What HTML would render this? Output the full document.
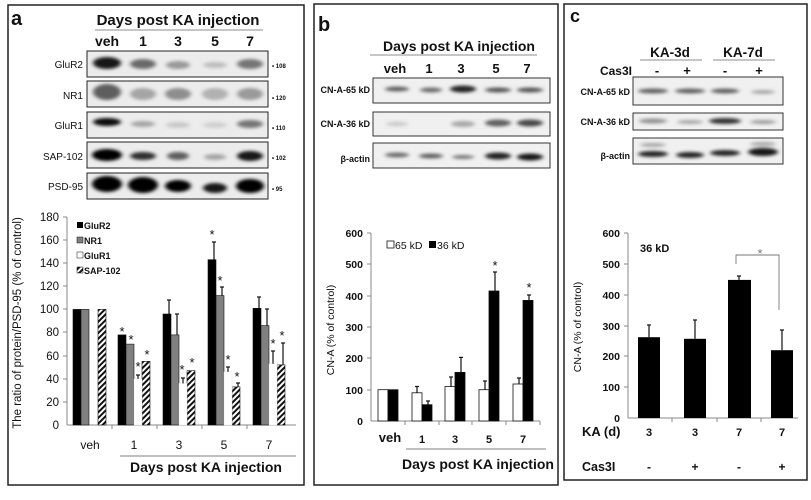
<!DOCTYPE html>
<html><head><meta charset="utf-8"><style>
html,body{margin:0;padding:0;background:#fff;}
svg{display:block;}
text{font-family:"Liberation Sans",sans-serif;fill:#111;}
.b{font-weight:bold;}
</style></head><body>
<svg width="811" height="500" viewBox="0 0 811 500" xmlns="http://www.w3.org/2000/svg">
<defs>
<filter id="bl" x="-30%" y="-100%" width="160%" height="300%"><feGaussianBlur stdDeviation="2.2 1.6"/></filter>
<pattern id="hatch" patternUnits="userSpaceOnUse" width="4" height="4" patternTransform="rotate(45)">
<rect width="4" height="4" fill="#fff"/><rect width="2" height="4" fill="#111"/></pattern>
</defs>
<rect width="811" height="500" fill="#fff"/>
<rect x="8" y="5" width="296" height="480" fill="none" stroke="#222" stroke-width="1.5"/>
<rect x="314" y="4" width="244" height="481" fill="none" stroke="#222" stroke-width="1.5"/>
<rect x="564" y="4" width="243" height="476" fill="none" stroke="#222" stroke-width="1.5"/>

<!-- ===== PANEL A ===== -->
<text x="11" y="25" font-size="20" class="b">a</text>
<text x="178" y="25" font-size="15" text-anchor="middle" class="b">Days post KA injection</text>
<line x1="95" y1="30" x2="263" y2="30" stroke="#666" stroke-width="0.8"/>
<g font-size="14" class="b" text-anchor="middle">
<text x="107" y="46">veh</text><text x="143" y="46">1</text><text x="178" y="46">3</text><text x="215" y="46">5</text><text x="250" y="46">7</text></g>
<g font-size="10" text-anchor="end" fill="#333">
<text x="83" y="68">GluR2</text><text x="83" y="99">NR1</text><text x="83" y="129">GluR1</text><text x="83" y="160">SAP-102</text><text x="83" y="190">PSD-95</text></g>
<g font-size="6" class="b"><text x="272" y="68">• 108</text><text x="272" y="100">• 120</text><text x="272" y="130">• 110</text><text x="272" y="160">• 102</text><text x="272" y="191">• 95</text></g>
<g fill="#ececec" stroke="#222" stroke-width="1">
<rect x="87" y="51" width="181" height="26"/><rect x="87" y="81" width="181" height="26"/><rect x="87" y="112" width="181" height="26"/><rect x="87" y="142" width="181" height="26"/><rect x="87" y="173" width="181" height="26"/></g>
<g filter="url(#bl)" fill="#000">
<ellipse cx="107" cy="63" rx="14" ry="6" opacity="0.9"/><ellipse cx="143" cy="64" rx="13" ry="5" opacity="0.55"/><ellipse cx="178" cy="65" rx="12" ry="4" opacity="0.35"/><ellipse cx="215" cy="65" rx="12" ry="3" opacity="0.2"/><ellipse cx="250" cy="64" rx="13" ry="5" opacity="0.5"/>
<ellipse cx="107" cy="92" rx="14" ry="8" opacity="0.6"/><ellipse cx="143" cy="94" rx="13" ry="6" opacity="0.3"/><ellipse cx="178" cy="94" rx="13" ry="6" opacity="0.4"/><ellipse cx="215" cy="94" rx="13" ry="6" opacity="0.25"/><ellipse cx="250" cy="94" rx="13" ry="6" opacity="0.35"/>
<ellipse cx="107" cy="122" rx="14" ry="4" opacity="0.95"/><ellipse cx="143" cy="124" rx="12" ry="3" opacity="0.3"/><ellipse cx="178" cy="125" rx="12" ry="3" opacity="0.15"/><ellipse cx="215" cy="125" rx="12" ry="3" opacity="0.12"/><ellipse cx="250" cy="124" rx="13" ry="4" opacity="0.5"/>
<ellipse cx="107" cy="155" rx="15" ry="6" opacity="1"/><ellipse cx="143" cy="156" rx="13" ry="4" opacity="0.8"/><ellipse cx="178" cy="156" rx="11" ry="4" opacity="0.6"/><ellipse cx="215" cy="157" rx="11" ry="3" opacity="0.3"/><ellipse cx="250" cy="156" rx="13" ry="5" opacity="0.9"/>
<ellipse cx="107" cy="184" rx="15" ry="8" opacity="1"/><ellipse cx="143" cy="185" rx="15" ry="8" opacity="1"/><ellipse cx="178" cy="186" rx="13" ry="6" opacity="1"/><ellipse cx="215" cy="188" rx="12" ry="5" opacity="0.9"/><ellipse cx="250" cy="186" rx="14" ry="7" opacity="1"/>
</g>
<g stroke="#888" stroke-width="1"><line x1="67" y1="217" x2="67" y2="425"/><line x1="67" y1="425" x2="296" y2="425"/>
<line x1="112" y1="425" x2="112" y2="429"/><line x1="157" y1="425" x2="157" y2="429"/><line x1="202" y1="425" x2="202" y2="429"/><line x1="247" y1="425" x2="247" y2="429"/>
<line x1="63" y1="217" x2="67" y2="217"/><line x1="63" y1="240" x2="67" y2="240"/><line x1="63" y1="263" x2="67" y2="263"/><line x1="63" y1="286" x2="67" y2="286"/><line x1="63" y1="309" x2="67" y2="309"/><line x1="63" y1="332" x2="67" y2="332"/><line x1="63" y1="356" x2="67" y2="356"/><line x1="63" y1="379" x2="67" y2="379"/><line x1="63" y1="402" x2="67" y2="402"/></g>
<g font-size="11.5" text-anchor="end"><text x="59" y="221">180</text><text x="59" y="244">160</text><text x="59" y="267">140</text><text x="59" y="290">120</text><text x="59" y="313">100</text><text x="59" y="336">80</text><text x="59" y="360">60</text><text x="59" y="383">40</text><text x="59" y="406">20</text><text x="59" y="429">0</text></g>
<text transform="translate(21,323) rotate(-90)" font-size="11.5" text-anchor="middle">The ratio of protein/PSD-95 (% of control)</text>
<g stroke="#111" stroke-width="0.6">
<rect x="73" y="309.4" width="8" height="115.6" fill="#000"/><rect x="81" y="309.4" width="8" height="115.6" fill="#808080"/><rect x="98" y="309.4" width="8" height="115.6" fill="url(#hatch)"/>
<rect x="118" y="334.9" width="8" height="90.1" fill="#000"/><rect x="126" y="344.1" width="8" height="80.9" fill="#808080"/><rect x="142" y="361.4" width="8" height="63.6" fill="url(#hatch)"/>
<rect x="163" y="314" width="8" height="111" fill="#000"/><rect x="171" y="334.9" width="8" height="90.1" fill="#808080"/><rect x="187" y="370.7" width="8" height="54.3" fill="url(#hatch)"/>
<rect x="208" y="259.7" width="8" height="165.3" fill="#000"/><rect x="216" y="295.6" width="8" height="129.4" fill="#808080"/><rect x="232" y="386.9" width="8" height="38.1" fill="url(#hatch)"/>
<rect x="253" y="308.3" width="8" height="116.7" fill="#000"/><rect x="261" y="325.6" width="8" height="99.4" fill="#808080"/><rect x="277" y="364.9" width="8" height="60.1" fill="url(#hatch)"/>
</g>
<g fill="#fff" stroke="#ddd" stroke-width="0.4"><rect x="134" y="378.8" width="8" height="46.2"/><rect x="179" y="383.4" width="8" height="41.6"/><rect x="224" y="371.8" width="8" height="53.2"/><rect x="269" y="363.7" width="8" height="61.3"/></g>
<g stroke="#111" stroke-width="1.2">
<line x1="138" y1="378.8" x2="138" y2="375"/><line x1="136" y1="375" x2="140" y2="375"/>
<line x1="169" y1="314" x2="169" y2="300"/><line x1="167" y1="300" x2="171" y2="300"/>
<line x1="177" y1="334.9" x2="177" y2="314"/><line x1="175" y1="314" x2="179" y2="314"/>
<line x1="183" y1="383.4" x2="183" y2="378"/><line x1="181" y1="378" x2="185" y2="378"/>
<line x1="214" y1="259.7" x2="214" y2="242"/><line x1="212" y1="242" x2="216" y2="242"/>
<line x1="222" y1="295.6" x2="222" y2="287"/><line x1="220" y1="287" x2="224" y2="287"/>
<line x1="228" y1="371.8" x2="228" y2="367"/><line x1="226" y1="367" x2="230" y2="367"/>
<line x1="238" y1="386.9" x2="238" y2="383"/><line x1="236" y1="383" x2="240" y2="383"/>
<line x1="259" y1="308.3" x2="259" y2="297"/><line x1="257" y1="297" x2="261" y2="297"/>
<line x1="267" y1="325.6" x2="267" y2="309"/><line x1="265" y1="309" x2="269" y2="309"/>
<line x1="273" y1="363.7" x2="273" y2="351"/><line x1="271" y1="351" x2="275" y2="351"/>
<line x1="283" y1="364.9" x2="283" y2="343"/><line x1="281" y1="343" x2="285" y2="343"/>
</g>
<g font-size="13" text-anchor="middle" style="fill:#777">
<text x="122" y="336">*</text><text x="131" y="344">*</text><text x="138" y="371">*</text><text x="147" y="359">*</text>
<text x="182" y="374">*</text><text x="192" y="367">*</text>
<text x="212" y="239">*</text><text x="220" y="285">*</text><text x="228" y="364">*</text><text x="237" y="381">*</text>
<text x="273" y="348">*</text><text x="282" y="340">*</text></g>
<rect x="77" y="222" width="6" height="6" fill="#000"/><rect x="77" y="237" width="6" height="6" fill="#808080" stroke="#111" stroke-width="0.5"/><rect x="77" y="252" width="6" height="6" fill="#fff" stroke="#111" stroke-width="0.5"/><rect x="77" y="267" width="6" height="6" fill="url(#hatch)" stroke="#111" stroke-width="0.5"/>
<g font-size="9" class="b"><text x="84" y="229">GluR2</text><text x="84" y="244">NR1</text><text x="84" y="259">GluR1</text><text x="84" y="274">SAP-102</text></g>
<g font-size="12" text-anchor="middle"><text x="90" y="449">veh</text><text x="134" y="449">1</text><text x="179" y="449">3</text><text x="224" y="449">5</text><text x="269" y="449">7</text></g>
<line x1="120" y1="456" x2="296" y2="456" stroke="#555" stroke-width="0.8"/>
<text x="206" y="472" font-size="14" text-anchor="middle" class="b">Days post KA injection</text>

<!-- ===== PANEL B ===== -->
<text x="318" y="31" font-size="20" class="b">b</text>
<text x="459" y="51" font-size="14" text-anchor="middle" class="b">Days post KA injection</text>
<line x1="370" y1="55" x2="537" y2="55" stroke="#666" stroke-width="0.8"/>
<g font-size="13" class="b" text-anchor="middle"><text x="395" y="73">veh</text><text x="429" y="73">1</text><text x="461" y="73">3</text><text x="496" y="73">5</text><text x="527" y="73">7</text></g>
<g font-size="9" text-anchor="end" class="b"><text x="370" y="93">CN-A-65 kD</text><text x="370" y="127">CN-A-36 kD</text><text x="370" y="162">β-actin</text></g>
<g fill="#f0f0f0" stroke="#333" stroke-width="1"><rect x="373" y="78" width="177" height="25"/><rect x="373" y="112" width="177" height="24"/><rect x="373" y="143" width="177" height="25"/></g>
<g filter="url(#bl)" fill="#000">
<ellipse cx="397" cy="89" rx="12" ry="2.5" opacity="0.6"/><ellipse cx="431" cy="90" rx="11" ry="2.5" opacity="0.55"/><ellipse cx="463" cy="89" rx="13" ry="3.5" opacity="0.85"/><ellipse cx="498" cy="90" rx="13" ry="2.5" opacity="0.65"/><ellipse cx="530" cy="90" rx="13" ry="2.5" opacity="0.65"/>
<ellipse cx="397" cy="124" rx="11" ry="2.5" opacity="0.15"/><ellipse cx="463" cy="124" rx="12" ry="3" opacity="0.3"/><ellipse cx="498" cy="123" rx="13" ry="3.5" opacity="0.6"/><ellipse cx="530" cy="123" rx="13" ry="3.5" opacity="0.7"/>
<ellipse cx="397" cy="155" rx="12" ry="2.5" opacity="0.55"/><ellipse cx="431" cy="156" rx="12" ry="2.5" opacity="0.6"/><ellipse cx="463" cy="157" rx="11" ry="2" opacity="0.5"/><ellipse cx="498" cy="156" rx="13" ry="3.5" opacity="0.85"/><ellipse cx="530" cy="157" rx="13" ry="3.5" opacity="0.9"/>
</g>
<g stroke="#888" stroke-width="1"><line x1="371" y1="233" x2="371" y2="421"/><line x1="371" y1="421" x2="540" y2="421"/>
<line x1="367" y1="233" x2="371" y2="233"/><line x1="367" y1="264" x2="371" y2="264"/><line x1="367" y1="296" x2="371" y2="296"/><line x1="367" y1="327" x2="371" y2="327"/><line x1="367" y1="358" x2="371" y2="358"/><line x1="367" y1="390" x2="371" y2="390"/>
<line x1="405" y1="421" x2="405" y2="425"/><line x1="439" y1="421" x2="439" y2="425"/><line x1="472" y1="421" x2="472" y2="425"/><line x1="506" y1="421" x2="506" y2="425"/><line x1="540" y1="421" x2="540" y2="425"/></g>
<g font-size="10.5" text-anchor="end" class="b"><text x="363" y="237">600</text><text x="363" y="268">500</text><text x="363" y="300">400</text><text x="363" y="331">300</text><text x="363" y="362">200</text><text x="363" y="394">100</text><text x="363" y="425">0</text></g>
<text transform="translate(334,330) rotate(-90)" font-size="10.5" text-anchor="middle">CN-A (% of control)</text>
<g stroke="#111" stroke-width="0.8">
<rect x="378" y="389.7" width="10" height="31.3" fill="#fff"/><rect x="388" y="389.7" width="10" height="31.3" fill="#000"/>
<rect x="412" y="392.8" width="10" height="28.2" fill="#fff"/><rect x="422" y="404.7" width="10" height="16.3" fill="#000"/>
<rect x="445" y="386.5" width="10" height="34.5" fill="#fff"/><rect x="455" y="372.4" width="10" height="48.6" fill="#000"/>
<rect x="479" y="389.7" width="10" height="31.3" fill="#fff"/><rect x="489" y="291" width="10" height="130" fill="#000"/>
<rect x="513" y="384" width="10" height="37" fill="#fff"/><rect x="523" y="300.4" width="10" height="120.6" fill="#000"/>
</g>
<g stroke="#111" stroke-width="1.2">
<line x1="417" y1="392.8" x2="417" y2="386.5"/><line x1="415" y1="386.5" x2="419" y2="386.5"/>
<line x1="428" y1="404.7" x2="428" y2="401"/><line x1="426" y1="401" x2="430" y2="401"/>
<line x1="451" y1="386.5" x2="451" y2="377"/><line x1="449" y1="377" x2="453" y2="377"/>
<line x1="461" y1="372.4" x2="461" y2="357.4"/><line x1="459" y1="357.4" x2="463" y2="357.4"/>
<line x1="485" y1="389.7" x2="485" y2="381"/><line x1="483" y1="381" x2="487" y2="381"/>
<line x1="495" y1="291" x2="495" y2="272"/><line x1="493" y1="272" x2="497" y2="272"/>
<line x1="519" y1="384" x2="519" y2="378"/><line x1="517" y1="378" x2="521" y2="378"/>
<line x1="529" y1="300.4" x2="529" y2="295"/><line x1="527" y1="295" x2="531" y2="295"/>
</g>
<g font-size="13" text-anchor="middle" style="fill:#777"><text x="495" y="270">*</text><text x="529" y="292">*</text></g>
<rect x="387" y="241" width="7" height="7" fill="#fff" stroke="#111" stroke-width="0.8"/><text x="395" y="249" font-size="10.5">65 kD</text>
<rect x="429" y="241" width="7" height="7" fill="#000"/><text x="437" y="249" font-size="10.5">36 kD</text>
<g font-size="11" text-anchor="middle" class="b"><text x="390" y="442" font-size="13">veh</text><text x="422" y="443">1</text><text x="455" y="443">3</text><text x="489" y="443">5</text><text x="523" y="443">7</text></g>
<line x1="406" y1="449" x2="546" y2="449" stroke="#555" stroke-width="0.8"/>
<text x="478" y="469" font-size="14" text-anchor="middle" class="b">Days post KA injection</text>

<!-- ===== PANEL C ===== -->
<text x="570" y="22" font-size="18" class="b">c</text>
<text x="670" y="57" font-size="13.5" text-anchor="middle" class="b">KA-3d</text>
<text x="743" y="57" font-size="13.5" text-anchor="middle" class="b">KA-7d</text>
<line x1="640" y1="60" x2="702" y2="60" stroke="#666" stroke-width="0.8"/><line x1="713" y1="60" x2="775" y2="60" stroke="#666" stroke-width="0.8"/>
<text x="632" y="75" font-size="12" text-anchor="end" class="b">Cas3I</text>
<g font-size="13" class="b" text-anchor="middle"><text x="657" y="75">-</text><text x="687" y="75">+</text><text x="725" y="75">-</text><text x="759" y="75">+</text></g>
<g font-size="9" text-anchor="end" class="b"><text x="630" y="95">CN-A-65 kD</text><text x="630" y="125">CN-A-36 kD</text><text x="630" y="159">β-actin</text></g>
<g fill="#f0f0f0" stroke="#333" stroke-width="1"><rect x="633" y="77" width="150" height="28"/><rect x="633" y="113" width="150" height="17"/><rect x="633" y="138" width="150" height="26"/></g>
<g filter="url(#bl)" fill="#000">
<ellipse cx="653" cy="91" rx="15" ry="2.5" opacity="0.6"/><ellipse cx="690" cy="91" rx="15" ry="2.5" opacity="0.6"/><ellipse cx="725" cy="91" rx="14" ry="2.5" opacity="0.6"/><ellipse cx="763" cy="92" rx="12" ry="2" opacity="0.3"/>
<ellipse cx="653" cy="121" rx="14" ry="2.5" opacity="0.4"/><ellipse cx="690" cy="122" rx="13" ry="2" opacity="0.3"/><ellipse cx="725" cy="121" rx="16" ry="3" opacity="0.8"/><ellipse cx="763" cy="122" rx="13" ry="2" opacity="0.35"/>
<ellipse cx="653" cy="154" rx="15" ry="3" opacity="0.85"/><ellipse cx="690" cy="155" rx="14" ry="3" opacity="0.85"/><ellipse cx="725" cy="153" rx="15" ry="3" opacity="0.85"/><ellipse cx="763" cy="152" rx="15" ry="4" opacity="0.9"/>
<ellipse cx="653" cy="145" rx="13" ry="2" opacity="0.3"/><ellipse cx="763" cy="144" rx="13" ry="2" opacity="0.3"/>
</g>
<g stroke="#888" stroke-width="1"><line x1="628" y1="233" x2="628" y2="418"/><line x1="628" y1="418" x2="798" y2="418"/>
<line x1="624" y1="233" x2="628" y2="233"/><line x1="624" y1="264" x2="628" y2="264"/><line x1="624" y1="295" x2="628" y2="295"/><line x1="624" y1="326" x2="628" y2="326"/><line x1="624" y1="356" x2="628" y2="356"/><line x1="624" y1="387" x2="628" y2="387"/>
<line x1="672" y1="418" x2="672" y2="422"/><line x1="717" y1="418" x2="717" y2="422"/><line x1="761" y1="418" x2="761" y2="422"/></g>
<g font-size="10.5" text-anchor="end" class="b"><text x="620" y="237">600</text><text x="620" y="268">500</text><text x="620" y="299">400</text><text x="620" y="330">300</text><text x="620" y="360">200</text><text x="620" y="391">100</text><text x="620" y="422">0</text></g>
<text transform="translate(581,327) rotate(-90)" font-size="10.5" text-anchor="middle">CN-A (% of control)</text>
<g fill="#000"><rect x="638" y="337.2" width="22" height="80.8"/><rect x="684" y="338.8" width="22" height="79.2"/><rect x="728" y="279.9" width="23" height="138.1"/><rect x="771" y="350.2" width="22" height="67.8"/></g>
<g stroke="#111" stroke-width="1.2">
<line x1="649" y1="337.2" x2="649" y2="325"/><line x1="647" y1="325" x2="651" y2="325"/>
<line x1="695" y1="338.8" x2="695" y2="320"/><line x1="693" y1="320" x2="697" y2="320"/>
<line x1="739" y1="279.9" x2="739" y2="276"/><line x1="737" y1="276" x2="741" y2="276"/>
<line x1="782" y1="350.2" x2="782" y2="330"/><line x1="780" y1="330" x2="784" y2="330"/>
</g>
<polyline points="736,264 736,255 779,255 779,310" fill="none" stroke="#777" stroke-width="0.9"/>
<text x="760" y="258" font-size="13" text-anchor="middle" style="fill:#777">*</text>
<text x="640" y="252" font-size="11" class="b">36 kD</text>
<text x="582" y="436" font-size="13" class="b">KA (d)</text>
<g font-size="11" text-anchor="middle" class="b"><text x="649" y="436">3</text><text x="695" y="436">3</text><text x="739" y="436">7</text><text x="782" y="436">7</text></g>
<text x="582" y="471" font-size="12.5" class="b">Cas3I</text>
<g font-size="12" text-anchor="middle" class="b"><text x="649" y="471">-</text><text x="695" y="471">+</text><text x="739" y="471">-</text><text x="782" y="471">+</text></g>
</svg>
</body></html>
